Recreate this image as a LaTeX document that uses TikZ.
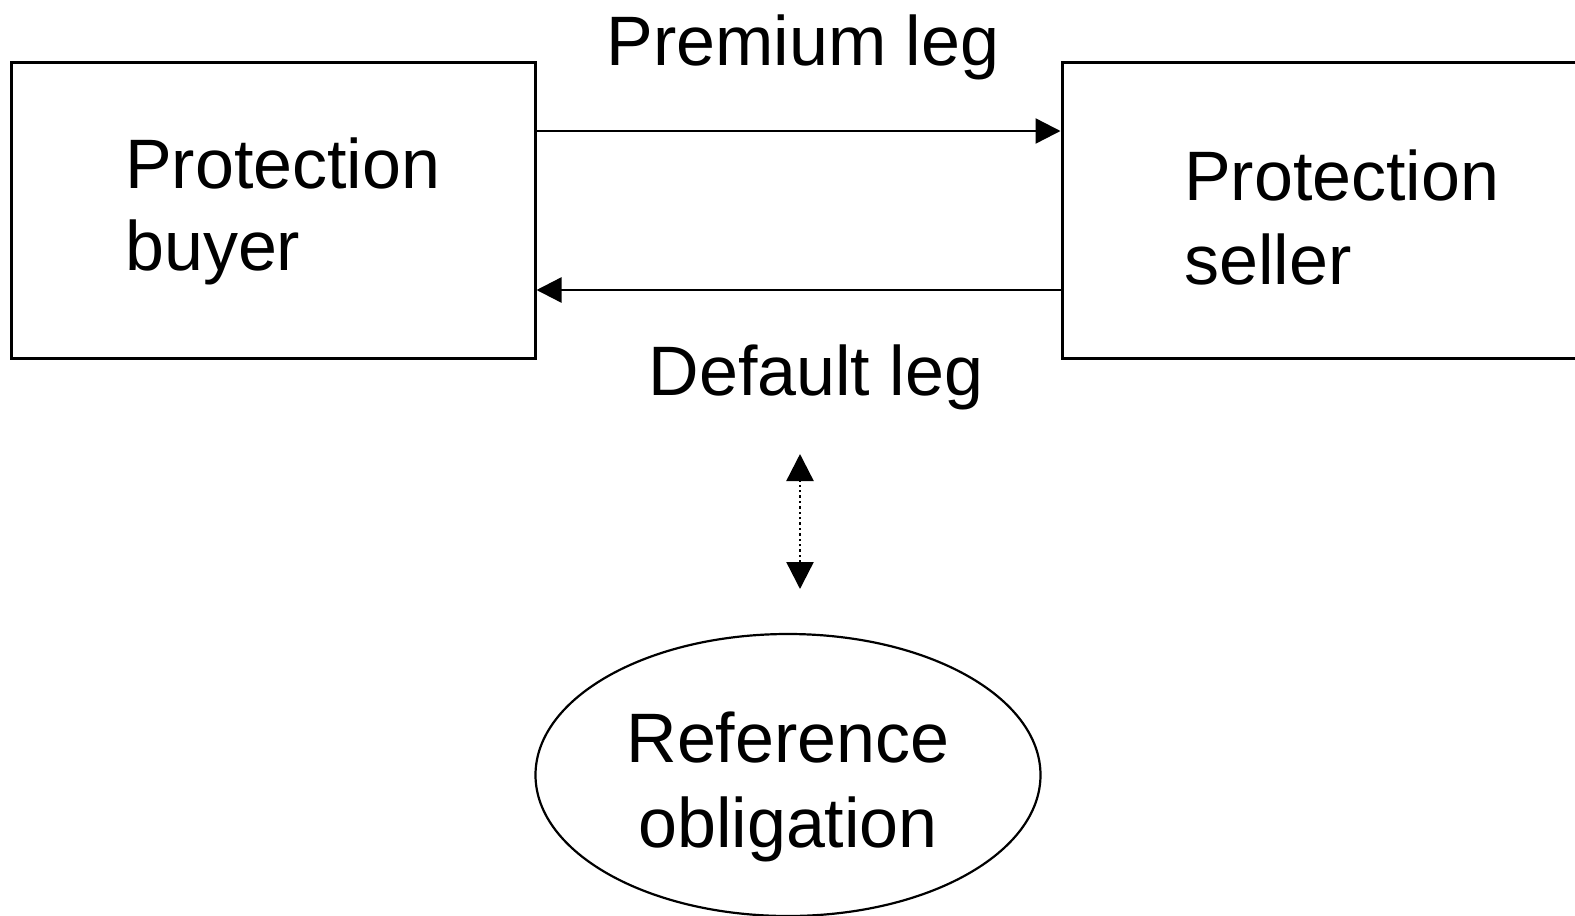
\documentclass[tikz,border=0pt]{standalone}
\usepackage{fontspec}
\setmainfont{Liberation Sans}
\usetikzlibrary{arrows.meta,shapes.geometric}
\begin{document}
\begin{tikzpicture}[x=1pt,y=-1pt,
  bigtext/.style={font=\fontsize{70}{85}\selectfont, inner sep=0pt},
  party/.style={draw, line width=3pt, rectangle, inner sep=0pt, minimum height=296pt},
  leg/.style={line width=2.4pt, -{Triangle[length=25pt,width=25pt]}},
  link/.style={line width=2.4pt, dash pattern=on 2.4pt off 3pt,
    {Triangle[length=27pt,width=27pt]}-{Triangle[length=27pt,width=27pt]}}]
\useasboundingbox (0,0) rectangle (1575,916);
\clip (0,0) rectangle (1575,916);

% counterparties
\node[party, minimum width=524pt] (buyer) at (273,210) {};
\node[party, minimum width=560pt] (seller) at (1342,210) {};
\node[bigtext, anchor=base west] (buyer1) at (125,188) {Protection};
\node[bigtext, anchor=base west] (buyer2) at (125,270) {buyer};
\node[bigtext, anchor=base west] (seller1) at (1184,200) {Protection};
\node[bigtext, anchor=base west] (seller2) at (1184,284) {seller};

% legs of the swap
\draw[leg] ([yshift=79pt]buyer.east) -- ([yshift=79pt]buyer.east -| seller.west);
\draw[leg] ([yshift=-80pt]seller.west) -- ([yshift=-80pt]seller.west -| buyer.east);
\node[bigtext, anchor=base] (prem) at (803,65) {Premium leg};
\node[bigtext, anchor=base] (dflt) at (816,395) {Default leg};

% reference obligation
\node[draw, ellipse, line width=2.2pt, minimum width=505pt, minimum height=282pt] (ref) at (788,775) {};
\node[bigtext, align=center] (reftext) at ([yshift=-12pt]ref.center) {Reference\\[0pt]obligation};
\coordinate (lt) at (800,454);
\coordinate (lb) at (800,589);
\draw[link] (lb) -- (lt);
\end{tikzpicture}
\end{document}
